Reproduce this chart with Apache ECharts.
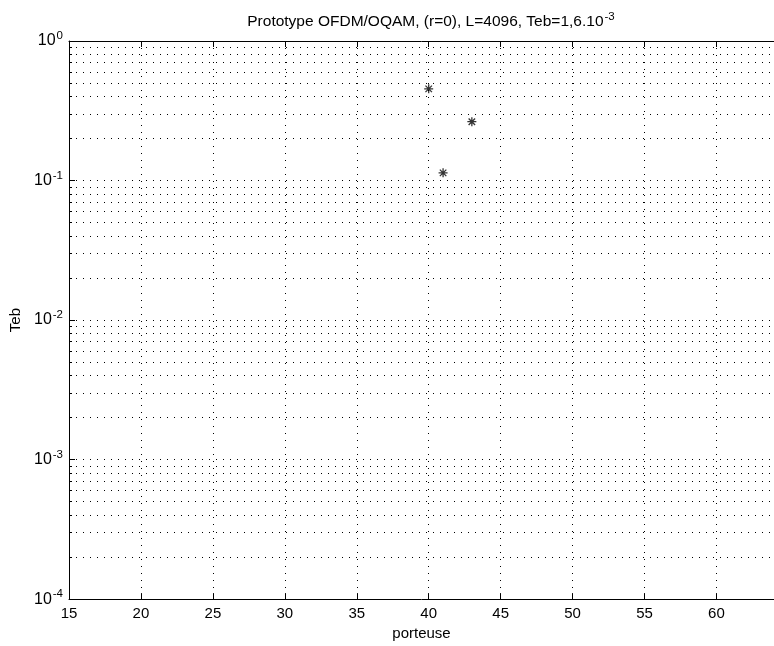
<!DOCTYPE html>
<html>
<head>
<meta charset="utf-8">
<script src="https://cdn.jsdelivr.net/npm/echarts@6/dist/echarts.min.js"></script>
<style>
html,body{margin:0;padding:0;background:#fff;}
#c{width:774px;height:646px;}
</style>
</head>
<body>
<div id="c"></div>
<script>
// ---- data ----
const porteuse = [40, 43, 41];
const teb = [0.454, 0.264, 0.1135];
const xTicks = [15, 20, 25, 30, 35, 40, 45, 50, 55, 60];
const yDecades = [1e-4, 1e-3, 1e-2, 1e-1, 1];
const yMinorTicks = [];
for (let d = -4; d < 0; d++) {
  for (let m = 2; m <= 9; m++) yMinorTicks.push(m * Math.pow(10, d));
}
const titleMain = 'Prototype OFDM/OQAM, (r=0), L=4096, Teb=1,6.10';
const titleExp = '-3';

const FONT = 'Liberation Sans, Arial, Helvetica, sans-serif';
const dotted = { color: '#000', width: 1, type: [1, 6] };

const chart = echarts.init(document.getElementById('c'), null, { renderer: 'canvas' });
const grid = { left: 69, top: 41, width: 713, height: 564 };

chart.setOption({
  backgroundColor: '#fff',
  animation: false,
  title: {
    text: '{m|' + titleMain + '}{s|' + titleExp + '}',
    left: 426, top: 6, textAlign: 'center',
    textStyle: {
      fontWeight: 'normal',
      rich: {
        m: { fontFamily: FONT, fontSize: 15.5, fontWeight: 'normal', color: '#000' },
        s: { fontFamily: FONT, fontSize: 11.5, fontWeight: 'normal', color: '#000', verticalAlign: 'top', padding: [0, 0, 10, 1] }
      }
    }
  },
  grid: grid,
  xAxis: [{
    type: 'value', min: 15, max: 64, interval: 5,
    position: 'bottom',
    name: 'porteuse', nameLocation: 'middle', nameGap: 24,
    nameTextStyle: { fontFamily: FONT, fontSize: 15, color: '#000' },
    axisLine: { show: true, onZero: false, lineStyle: { color: '#000', width: 1 } },
    axisTick: { show: true, inside: true, length: 6, lineStyle: { color: '#000' } },
    axisLabel: { fontFamily: FONT, fontSize: 15, color: '#000', margin: 7, showMaxLabel: false,
      formatter: v => xTicks.indexOf(v) >= 0 ? String(v) : '' },
    splitLine: { show: true, lineStyle: dotted }
  }, {
    type: 'value', min: 15, max: 64, interval: 5,
    position: 'top',
    axisLine: { show: true, onZero: false, lineStyle: { color: '#000', width: 1 } },
    axisTick: { show: true, inside: true, length: 6, lineStyle: { color: '#000' } },
    axisLabel: { show: false },
    splitLine: { show: false }
  }],
  yAxis: [{
    type: 'log', logBase: 10, min: 1e-4, max: 1,
    position: 'left',
    name: 'Teb', nameLocation: 'middle', nameGap: 45, nameRotate: 90,
    nameTextStyle: { fontFamily: FONT, fontSize: 15, color: '#000' },
    axisLine: { show: true, onZero: false, lineStyle: { color: '#000', width: 1 } },
    axisTick: { show: true, inside: true, length: 6, customValues: yDecades, lineStyle: { color: '#000' } },
    axisLabel: {
      customValues: yDecades, margin: 6, fontSize: 16,
      formatter: v => '{b|10}{s|' + Math.round(Math.log10(v)) + '}',
      rich: {
        b: { fontFamily: FONT, fontSize: 16, color: '#000' },
        s: { fontFamily: FONT, fontSize: 11.5, color: '#000', verticalAlign: 'top', padding: [0, 0, 10, 1] }
      }
    },
    splitLine: { show: true, lineStyle: dotted }
  }, {
    type: 'log', logBase: 10, min: 1e-4, max: 1,
    position: 'left', offset: 0,
    axisLine: { show: false },
    axisTick: { show: true, inside: true, length: 3, customValues: yMinorTicks, lineStyle: { color: '#000' } },
    axisLabel: { show: false },
    splitLine: { show: true, lineStyle: dotted }
  }],
  series: [{
    type: 'scatter',
    xAxisIndex: 0, yAxisIndex: 0,
    data: porteuse.map((x, i) => [x, teb[i]]),
    symbol: 'path://M0,-5L0,5M-5,0L5,0M-3.6,-3.6L3.6,3.6M-3.6,3.6L3.6,-3.6',
    symbolSize: 9,
    itemStyle: { color: 'rgba(0,0,0,0)', borderColor: '#000', borderWidth: 1.3 },
    emphasis: { disabled: true }
  }]
});
</script>
</body>
</html>
